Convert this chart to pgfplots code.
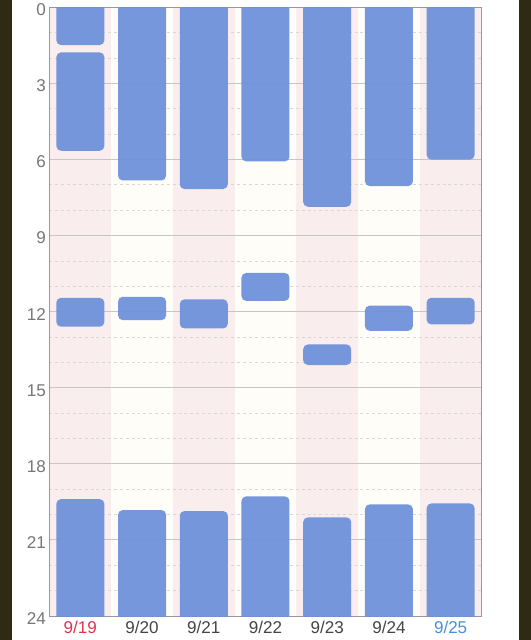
\documentclass[border=0pt]{standalone}
\usepackage{pgfplots}
\pgfplotsset{compat=1.18}
\usepackage{pgfplotstable}
\usepackage{fontspec}
\setmainfont{Liberation Sans}
\definecolor{barblue}{HTML}{6F92DB}
\definecolor{pinkbg}{HTML}{F9EDEE}
\definecolor{creambg}{HTML}{FEFDF8}
\definecolor{darkband}{HTML}{2E2A14}
\definecolor{gridmajor}{HTML}{C6C6C6}
\definecolor{gridminor}{HTML}{D8D8D8}
\definecolor{ticklab}{HTML}{767676}
\definecolor{xlab}{HTML}{444444}
\definecolor{redlab}{HTML}{E0334F}
\definecolor{bluelab}{HTML}{4A8FDB}

% sleep segments per day (hours from 0 at top to 24 at bottom)
\pgfplotstableread{
x s1 e1 s2 e2 s3 e3 s4 e4
0 0 1.48 1.77 5.65 11.45 12.59 19.39 24
1 0 6.82 6.82 6.82 11.41 12.33 19.82 24
2 0 7.16 7.16 7.16 11.51 12.66 19.86 24
3 0 6.07 6.07 6.07 10.47 11.57 19.28 24
4 0 7.86 7.86 7.86 13.29 14.10 20.11 24
5 0 7.04 7.04 7.04 11.76 12.75 19.60 24
6 0 6.00 6.00 6.00 11.45 12.50 19.56 24
}\sleep

\begin{document}
\begin{tikzpicture}
\path[use as bounding box] (0,0) rectangle (398.25pt,480pt);
\fill[darkband] (0,0) rectangle (9.2pt,480pt);
\fill[darkband] (389.25pt,0) rectangle (398.25pt,480pt);
% alternating column backgrounds
\foreach \i in {0,...,6}{
  \pgfmathsetmacro{\xa}{37.125+46.2857*\i}
  \pgfmathsetmacro{\xb}{37.125+46.2857*(\i+1)}
  \pgfmathtruncatemacro{\odd}{mod(\i,2)}
  \ifnum\odd=0
    \fill[pinkbg] (\xa pt,18pt) rectangle (\xb pt,474.375pt);
  \else
    \fill[creambg] (\xa pt,18pt) rectangle (\xb pt,474.375pt);
  \fi
}
\begin{axis}[
  at={(37.125pt,18pt)}, anchor=south west,
  scale only axis, width=324pt, height=456.375pt,
  ybar stacked, stack negative=on previous, bar width=36pt,
  xmin=-0.5, xmax=6.5, ymin=0, ymax=24, y dir=reverse,
  xtick={0,...,6},
  xticklabels={\textcolor{redlab}{9/19},9/20,9/21,9/22,9/23,9/24,\textcolor{bluelab}{9/25}},
  ytick={0,3,...,24},
  minor ytick={1,2,4,5,7,8,10,11,13,14,16,17,19,20,22,23},
  ymajorgrids, yminorgrids,
  major grid style={gridmajor, line width=0.75pt},
  minor grid style={gridminor, line width=0.75pt, dash pattern=on 2.2pt off 2.2pt},
  major tick length=0pt, minor tick length=0pt,
  axis line style={black!40, line width=0.75pt},
  tick label style={font=\fontsize{12.8}{15}\selectfont},
  yticklabel style={text=ticklab, inner sep=2.5pt, yshift=-1.8pt},
  xticklabel style={text=xlab, inner sep=4pt},
  /pgf/number format/assume math mode=true,
]
% lead-in above the top edge so the first bars have square (clipped) tops
\addplot[fill=none, draw=none] table[x=x, y expr=-0.5]{\sleep};
\addplot[fill=barblue, fill opacity=0.95, draw=none, rounded corners=3.5pt] table[x=x, y expr=\thisrow{e1}-\thisrow{s1}+0.5]{\sleep};
\addplot[fill=none, draw=none] table[x=x, y expr=\thisrow{s2}-\thisrow{e1}]{\sleep};
\addplot[fill=barblue, fill opacity=0.95, draw=none, rounded corners=3.5pt] table[x=x, y expr=\thisrow{e2}-\thisrow{s2}]{\sleep};
\addplot[fill=none, draw=none] table[x=x, y expr=\thisrow{s3}-\thisrow{e2}]{\sleep};
\addplot[fill=barblue, fill opacity=0.95, draw=none, rounded corners=3.5pt] table[x=x, y expr=\thisrow{e3}-\thisrow{s3}]{\sleep};
\addplot[fill=none, draw=none] table[x=x, y expr=\thisrow{s4}-\thisrow{e3}]{\sleep};
\addplot[fill=barblue, fill opacity=0.95, draw=none, rounded corners=3.5pt] table[x=x, y expr=\thisrow{e4}-\thisrow{s4}+0.5]{\sleep};
\end{axis}
\end{tikzpicture}
\end{document}
